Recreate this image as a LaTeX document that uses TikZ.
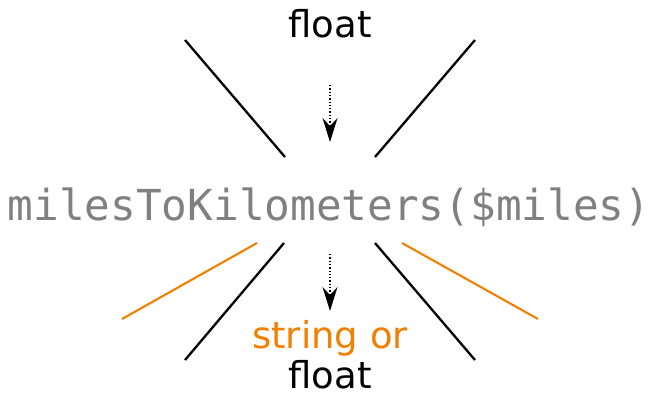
\documentclass[tikz,border=0pt]{standalone}
\usepackage{fontspec}
\setmainfont{DejaVu Sans}
\setmonofont{DejaVu Sans Mono}
\usetikzlibrary{arrows,arrows.meta,shapes}
\definecolor{codegray}{RGB}{128,128,128}
\definecolor{typeorange}{RGB}{242,128,0}
\tikzstyle{label} = [inner sep=0pt,anchor=base,font=\fontsize{37}{40}\selectfont]
\tikzstyle{call} = [inner sep=0pt,anchor=base,text=codegray,font=\ttfamily\fontsize{42.7}{46}\selectfont]
\tikzstyle{ray} = [draw,line width=2.3pt,-]
\tikzstyle{orange ray} = [draw,typeorange,line width=2.1pt,-]
\tikzstyle{flow} = [draw,dotted,line width=1.3pt,-{Stealth[length=24pt,width=15pt,inset=8pt,sep=0pt]}]

\begin{document}
\begin{tikzpicture}[x=1pt,y=-1pt]
    \useasboundingbox (0,0) rectangle (655,394);
    % First the texts
    \node[label] (in) at (330,37) {float};
    \node[call] (fn) at (329,220) {milesToKilometers(\$miles)};
    \node[label,text=typeorange] (outA) at (330,348) {string or};
    \node[label] (outB) at (330,388) {float};

    % End points of the rays
    \foreach \pos/\name in {{(185,40)/ul1}, {(285,157)/ul2}, {(475,40)/ur1}, {(375,157)/ur2}, {(284,243)/ll1}, {(185,360)/ll2}, {(375,243)/lr1}, {(475,360)/lr2}, {(257,243)/ol1}, {(122,319)/ol2}, {(402,243)/or1}, {(538,319)/or2}, {(330,85)/a1}, {(330,142)/a2}, {(330,254)/b1}, {(330,311)/b2}}
        \node[coordinate] (\name) at \pos {};

    % Black rays
    \foreach \source/ \dest in {ul1/ul2, ur1/ur2, ll1/ll2, lr1/lr2}
        \path[ray] (\source) -- (\dest);
    % Orange rays
    \foreach \source/ \dest in {ol1/ol2, or1/or2}
        \path[orange ray] (\source) -- (\dest);
    % Arrows
    \foreach \source/ \dest in {a1/a2, b1/b2}
        \path[flow] (\source) -- (\dest);
\end{tikzpicture}
\end{document}
